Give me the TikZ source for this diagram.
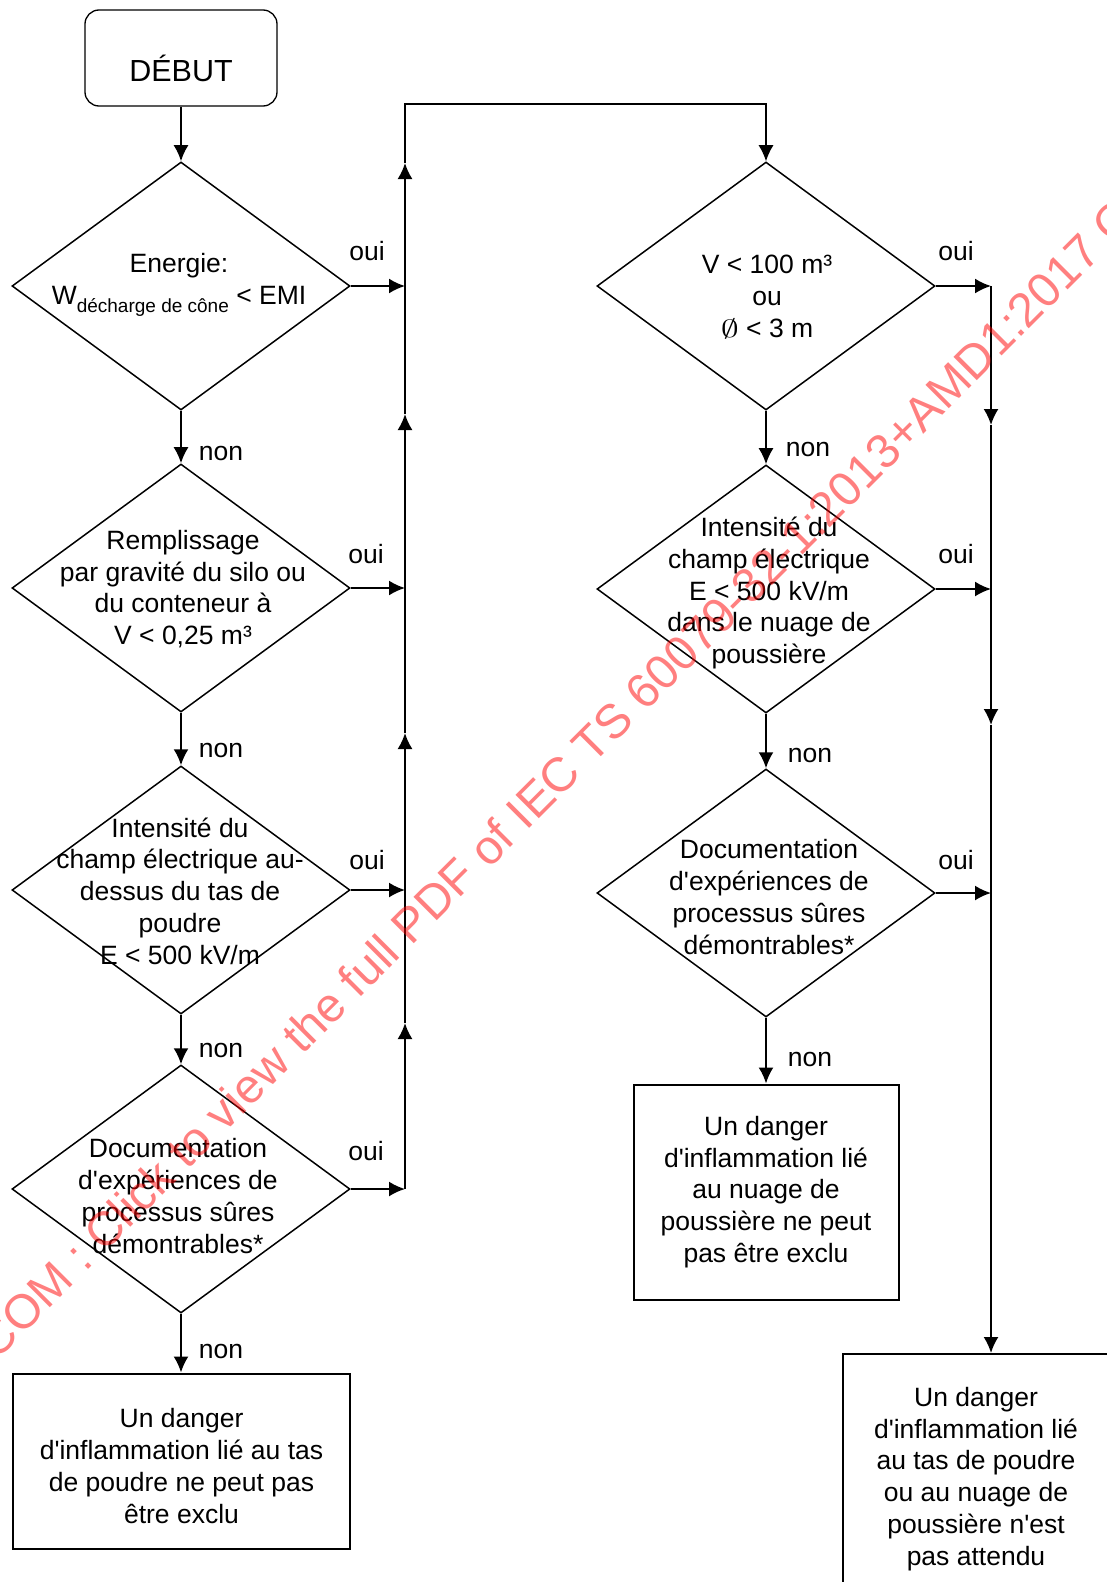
\documentclass[tikz,border=0pt]{standalone}
\usepackage{fontspec}
\setmainfont{Liberation Sans}[Ligatures=TeXOff]
\usetikzlibrary{shapes.geometric, arrows.meta}
\tikzset{
  decision/.style={diamond, draw, line width=1.5pt, minimum width=338pt, minimum height=248pt, inner sep=0pt},
  startbox/.style={rectangle, rounded corners=14pt, draw, line width=1.3pt, minimum width=192pt, minimum height=96pt},
  endbox/.style={rectangle, draw, line width=2pt, align=center, font=\fontsize{26.5}{31.8}\selectfont},
  txt/.style={align=center, font=\fontsize{26.5}{31.8}\selectfont, inner sep=0pt},
  arr/.style={-{Latex[length=16pt,width=15pt]}, line width=2pt},
}

\begin{document}
\begin{tikzpicture}[x=1pt, y=-1pt]
\useasboundingbox (0,0) rectangle (1107,1582);
\clip (0,0) rectangle (1107,1582);

\node[startbox] (debut) at (181,58) {};
\node[txt, anchor=base, font=\fontsize{30.5}{36}\selectfont] (debuttxt) at (181,81) {DÉBUT};

\node[decision] (d1) at (181,286) {};
\node[decision] (d2) at (181,588) {};
\node[decision] (d3) at (181,890) {};
\node[decision] (d4) at (181,1189) {};
\node[endbox, minimum width=337pt, minimum height=175pt] (box1) at (181,1461) {};
\node[txt] (t0) at (181.5,1466) {Un danger\\d'inflammation lié au tas\\de poudre ne peut pas\\être exclu};

\node[txt] (t1) at (179,285) {Energie:\\W\raisebox{-8pt}{\fontsize{19}{19}\selectfont décharge de cône} < EMI};
\node[txt] (t2) at (183,589) {Remplissage\\par gravité du silo ou\\du conteneur à\\V < 0,25 m³};
\node[txt] (t3) at (180,891) {Intensité du\\champ électrique au-\\dessus du tas de\\poudre\\E < 500 kV/m};
\node[txt] (t4) at (178,1196) {Documentation\\d'expériences de\\processus sûres\\démontrables*};

\node[decision] (d5) at (766,286) {};
\node[decision] (d6) at (766,589) {};
\node[decision] (d7) at (766,893) {};
\node[endbox, minimum width=265pt, minimum height=215pt] (box2) at (766,1192) {Un danger\\d'inflammation lié\\au nuage de\\poussière ne peut\\pas être exclu};
\node[endbox, minimum width=266pt, minimum height=250pt] (box3) at (976,1479) {Un danger\\d'inflammation lié\\au tas de poudre\\ou au nuage de\\poussière n'est\\pas attendu};

\node[txt] (t5) at (767,297) {V < 100 m³\\ou\\\scalebox{1.45}[1.0]{$\emptyset$} < 3 m};
\node[txt] (t6) at (769,593) {Intensité du\\champ électrique\\E < 500 kV/m\\dans le nuage de\\poussière};
\node[txt] (t7) at (769,897) {Documentation\\d'expériences de\\processus sûres\\démontrables*};

\coordinate (l1) at (405,286);
\coordinate (l2) at (405,588);
\coordinate (l3) at (405,890);
\coordinate (l4) at (405,1189);
\coordinate (up1) at (405,163);
\coordinate (up2) at (405,414);
\coordinate (up3) at (405,733);
\coordinate (up4) at (405,1023);
\coordinate (top1) at (405,104);
\coordinate (top2) at (766,104);

\coordinate (r1) at (991,286);
\coordinate (r2) at (991,589);
\coordinate (r3) at (991,893);
\coordinate (dn1) at (991,425);
\coordinate (dn2) at (991,725);

\draw[arr] (debut) -- (d1);
\draw[arr] (d1) -- (d2);
\draw[arr] (d2) -- (d3);
\draw[arr] (d3) -- (d4);
\draw[arr] (d4) -- (box1);
\draw[arr] (d5) -- (d6);
\draw[arr] (d6) -- (d7);
\draw[arr] (d7) -- (box2);

\draw[arr] (d1) -- (l1);
\draw[arr] (d2) -- (l2);
\draw[arr] (d3) -- (l3);
\draw[arr] (d4) -- (l4);
\draw[arr] (l4) -- (up4);
\draw[arr] (up4) -- (up3);
\draw[arr] (up3) -- (up2);
\draw[arr] (up2) -- (up1);
\draw[arr, line width=1.4pt] (up1) -- (top1) -- (top2) -- (d5);

\draw[arr] (d5) -- (r1);
\draw[arr] (d6) -- (r2);
\draw[arr] (d7) -- (r3);
\draw[arr] (r1) -- (dn1);
\draw[arr] (dn1) -- (dn2);
\draw[arr] (dn2) -- (dn2 |- box3.north);

\node[txt] (oui1) at (367,251) {oui};
\node[txt] (oui2) at (366,554) {oui};
\node[txt] (oui3) at (367,860) {oui};
\node[txt] (oui4) at (366,1151) {oui};
\node[txt] (oui5) at (956,251) {oui};
\node[txt] (oui6) at (956,554) {oui};
\node[txt] (oui7) at (956,860) {oui};
\node[txt] (non1) at (221,453) {non};
\node[txt] (non2) at (221,750) {non};
\node[txt] (non3) at (221,1050) {non};
\node[txt] (non4) at (221,1351) {non};
\node[txt] (non5) at (808,449) {non};
\node[txt] (non6) at (810,755) {non};
\node[txt] (non7) at (810,1059) {non};

\node[rotate=45, anchor=base west, inner sep=0pt, text=red, text opacity=0.5, font=\fontsize{48}{48}\selectfont] (wm) at (-3.3,1361.3) {COM : Click to view the full PDF of IEC TS 60079-32-1:2013+AMD1:2017 C};
\end{tikzpicture}
\end{document}
